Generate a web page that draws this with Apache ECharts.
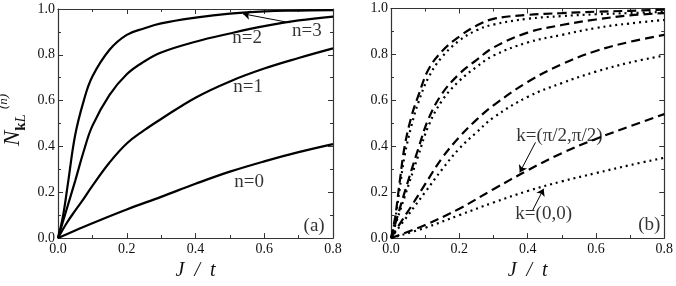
<!DOCTYPE html>
<html><head><meta charset="utf-8">
<script src="https://cdn.jsdelivr.net/npm/echarts@6/dist/echarts.min.js"></script>
<style>html,body{margin:0;padding:0;background:#fff}#c{width:676px;height:286px}</style>
</head><body><div id="c"></div>
<script>
// ---- data: [J/t, N] pairs ----
const xTicks = [0.0, 0.2, 0.4, 0.6, 0.8];
const yTicks = [0.0, 0.2, 0.4, 0.6, 0.8, 1.0];

// panel (a): solid curves
const a_n0 = [[0,0],[0.05,0.033],[0.1,0.065],[0.2,0.125],[0.3,0.18],[0.4,0.237],[0.5,0.29],[0.6,0.335],[0.7,0.375],[0.8,0.41]];
const a_n1 = [[0,0],[0.025,0.065],[0.05,0.12],[0.075,0.172],[0.1,0.228],[0.15,0.33],[0.2,0.413],[0.25,0.47],[0.3,0.52],[0.4,0.613],[0.5,0.684],[0.6,0.74],[0.7,0.786],[0.8,0.828]];
const a_n2 = [[0,0],[0.025,0.125],[0.05,0.25],[0.075,0.38],[0.1,0.49],[0.15,0.625],[0.2,0.715],[0.25,0.77],[0.3,0.81],[0.4,0.857],[0.5,0.893],[0.6,0.925],[0.7,0.95],[0.8,0.967]];
const a_n3 = [[0,0],[0.015,0.1],[0.03,0.25],[0.05,0.45],[0.075,0.6],[0.1,0.705],[0.15,0.822],[0.2,0.887],[0.25,0.915],[0.3,0.937],[0.4,0.962],[0.5,0.98],[0.6,0.99],[0.7,0.993],[0.8,0.995]];

// panel (b): dashed k=(pi/2,pi/2), dotted k=(0,0)
const b_dash_n0 = [[0,0],[0.05,0.028],[0.1,0.057],[0.2,0.128],[0.3,0.213],[0.4,0.295],[0.5,0.37],[0.6,0.432],[0.7,0.487],[0.8,0.54]];
const b_dot_n0  = [[0,0],[0.1,0.045],[0.2,0.1],[0.3,0.155],[0.4,0.205],[0.5,0.247],[0.6,0.283],[0.7,0.318],[0.8,0.35]];
const b_dash_n1 = [[0,0],[0.03,0.072],[0.06,0.14],[0.1,0.235],[0.15,0.35],[0.2,0.44],[0.25,0.515],[0.3,0.578],[0.4,0.68],[0.5,0.757],[0.6,0.815],[0.7,0.855],[0.8,0.885]];
const b_dot_n1  = [[0,0],[0.05,0.1],[0.1,0.2],[0.15,0.3],[0.2,0.39],[0.25,0.46],[0.3,0.525],[0.4,0.615],[0.5,0.675],[0.6,0.725],[0.7,0.765],[0.8,0.795]];
const b_dash_n2 = [[0,0],[0.02,0.1],[0.04,0.2],[0.08,0.39],[0.11,0.52],[0.15,0.63],[0.2,0.715],[0.25,0.775],[0.3,0.83],[0.4,0.895],[0.5,0.928],[0.6,0.952],[0.7,0.97],[0.8,0.98]];
const b_dot_n2  = [[0,0],[0.02,0.09],[0.04,0.18],[0.08,0.36],[0.11,0.49],[0.15,0.6],[0.2,0.685],[0.25,0.745],[0.3,0.795],[0.4,0.852],[0.5,0.885],[0.6,0.915],[0.7,0.935],[0.8,0.95]];
const b_dash_n3 = [[0,0],[0.012,0.09],[0.025,0.24],[0.04,0.4],[0.06,0.53],[0.08,0.62],[0.11,0.735],[0.15,0.815],[0.2,0.878],[0.25,0.925],[0.3,0.955],[0.4,0.972],[0.5,0.98],[0.6,0.986],[0.7,0.99],[0.8,0.995]];
const b_dot_n3  = [[0,0],[0.012,0.08],[0.025,0.21],[0.04,0.36],[0.06,0.49],[0.08,0.59],[0.11,0.7],[0.15,0.79],[0.2,0.86],[0.25,0.905],[0.3,0.93],[0.4,0.955],[0.5,0.967],[0.6,0.975],[0.7,0.98],[0.8,0.985]];

// annotation texts (data coords)
const labelsA = [{name:'n=0', value:[0.556,0.245]},{name:'n=1', value:[0.553,0.659]},{name:'n=2', value:[0.55,0.872]},{name:'n=3', value:[0.724,0.902]},{name:'(a)', value:[0.745,0.053]}];
const labelsB = [{name:'k=(π/2,π/2)', value:[0.493,0.446]},{name:'k=(0,0)', value:[0.447,0.105]},{name:'(b)', value:[0.756,0.055]}];
const arrowsA = [[[0.675,0.94],[0.538,0.979]]];
const arrowsB = [[[0.423,0.417],[0.377,0.286]],[[0.415,0.122],[0.447,0.215]]];

const FONT = 'Liberation Serif';
const chart = echarts.init(document.getElementById('c'), null, {renderer:'canvas'});

function xAx(grid, pos, showLabel){
  return {type:'value', gridIndex:grid, position:pos, min:0, max:0.8, interval:0.2,
    axisLine:{show:true, onZero:false, lineStyle:{color:'#333', width:1.2}},
    axisTick:{show:true, inside:true, length:5, lineStyle:{color:'#333'}},
    minorTick:{show:true, splitNumber:2, length:3, lineStyle:{color:'#333'}},
    splitLine:{show:false}, minorSplitLine:{show:false},
    axisLabel:{show:showLabel, color:'#111', fontFamily:FONT, fontSize:14, margin:4, formatter:v=>v.toFixed(1)},
    name: showLabel ? 'J\u2002/\u2002t' : '', nameLocation:'middle', nameGap:22,
    nameTextStyle:{fontFamily:FONT, fontStyle:'italic', fontSize:20, color:'#111'}};
}
function yAx(grid, pos, showLabel){
  return {type:'value', gridIndex:grid, position:pos, min:0, max:1, interval:0.2,
    axisLine:{show:true, onZero:false, lineStyle:{color:'#333', width:1.2}},
    axisTick:{show:true, inside:true, length:5, lineStyle:{color:'#333'}},
    minorTick:{show:true, splitNumber:2, length:3, lineStyle:{color:'#333'}},
    splitLine:{show:false}, minorSplitLine:{show:false},
    axisLabel:{show:showLabel, color:'#111', fontFamily:FONT, fontSize:14, margin:3, formatter:v=>v.toFixed(1)}};
}
function line(data, xi, yi, type){
  return {type:'line', data:data, xAxisIndex:xi, yAxisIndex:yi, showSymbol:false, symbol:'none',
    smooth:0.4, silent:true, animation:false,
    lineStyle:{color:'#000', width:2.2, type:type, cap:'butt'}};
}
function labels(data, xi, yi){
  return {type:'scatter', data:data, xAxisIndex:xi, yAxisIndex:yi, symbolSize:1, silent:true, animation:false,
    itemStyle:{color:'rgba(0,0,0,0)'},
    label:{show:true, position:'inside', formatter:p=>p.name, color:'#000', fontFamily:FONT, fontSize:19},
    labelLayout:{hideOverlap:false},
    markLine:{silent:true, animation:false, symbol:['none','arrow'], symbolSize:7, label:{show:false},
      lineStyle:{color:'#000', width:1, type:'solid'},
      data:(xi===0?arrowsA:arrowsB).map(a=>[{coord:a[0]},{coord:a[1]}])}};
}

chart.setOption({
  animation:false,
  grid:[{left:58, top:9, width:275, height:234.5},{left:391, top:8.5, width:274, height:237.5}],
  xAxis:[xAx(0,'bottom',true), xAx(0,'top',false), xAx(1,'bottom',true), xAx(1,'top',false)],
  yAxis:[yAx(0,'left',true), yAx(0,'right',false), yAx(1,'left',true), yAx(1,'right',false)],
  series:[
    line(a_n0,0,0,'solid'), line(a_n1,0,0,'solid'), line(a_n2,0,0,'solid'), line(a_n3,0,0,'solid'),
    line(b_dash_n0,2,2,[9,5]), line(b_dot_n0,2,2,[2,4]),
    line(b_dash_n1,2,2,[9,5]), line(b_dot_n1,2,2,[2,4]),
    line(b_dash_n2,2,2,[9,5]), line(b_dot_n2,2,2,[2,4]),
    line(b_dash_n3,2,2,[9,5]), line(b_dot_n3,2,2,[2,4]),
    labels(labelsA,0,0), labels(labelsB,2,2)
  ],
  graphic:[{type:'text', x:13, y:120, rotation:Math.PI/2, silent:true,
    style:{text:'{N|N}{k|k}{L|L}{p|(n)}', align:'center', verticalAlign:'middle',
      rich:{
        N:{fontFamily:FONT, fontStyle:'italic', fontSize:23, lineHeight:32, verticalAlign:'middle', fill:'#111'},
        k:{fontFamily:FONT, fontWeight:'bold', fontSize:15, lineHeight:14, verticalAlign:'bottom', fill:'#111'},
        L:{fontFamily:FONT, fontStyle:'italic', fontSize:15, lineHeight:14, verticalAlign:'bottom', fill:'#111', padding:[0,5,0,0]},
        p:{fontFamily:FONT, fontStyle:'italic', fontSize:13, lineHeight:13, verticalAlign:'top', fill:'#111'}
      }}}]
});
</script></body></html>
